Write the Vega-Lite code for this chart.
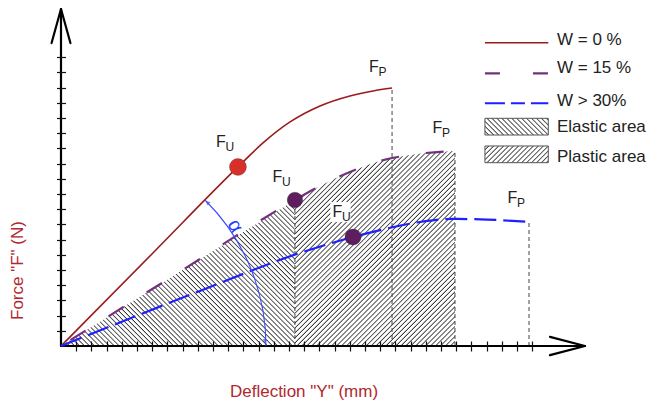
{
"$schema": "https://vega.github.io/schema/vega-lite/v6.json",
"width": 524, "height": 338,
"autosize": "none",
"padding": {"left": 61, "top": 8, "right": 63, "bottom": 58},
"background": "white",
"config": {"view": {"stroke": null}, "font": "Liberation Sans"},
"encoding": {
  "x": {"field": "x", "type": "quantitative", "scale": {"domain": [0, 34.474], "nice": false, "zero": false},
    "axis": {"values": [1,2,3,4,5,6,7,8,9,10,11,12,13,14,15,16,17,18,19,20,21,22,23,24,25,26,27,28,29,30,31],
      "domain": false, "labels": false, "grid": false, "ticks": true, "tickSize": 10, "tickWidth": 1.2, "tickColor": "#111", "offset": -5, "zindex": 2,
      "title": "Deflection \"Y\" (mm)", "titleColor": "#b0282e", "titleFontSize": 17, "titleFontWeight": "normal", "titleX": 242.5, "titleY": 55.5, "titleBaseline": "alphabetic", "titleAlign": "center"}},
  "y": {"field": "y", "type": "quantitative", "scale": {"domain": [0, 22.237], "nice": false, "zero": false},
    "axis": {"values": [1,2,3,4,5,6,7,8,9,10,11,12,13,14,15,16,17,18,19],
      "domain": false, "labels": false, "grid": false, "ticks": true, "tickSize": 9, "tickWidth": 1.2, "tickColor": "#111", "offset": -4.5, "zindex": 2,
      "title": "Force \"F\" (N)", "titleColor": "#b0282e", "titleFontSize": 17, "titleFontWeight": "normal", "titleAngle": 270, "titleX": -48, "titleY": 262, "titleBaseline": "middle", "titleAlign": "center"}}
},
"layer": [
{"data": {"values": [{"x": 0, "y": 0}, {"x": 15.39, "y": 9.61}]},
 "mark": {"type": "area", "stroke": null, "opacity": 1, "fill": {"gradient": "linear", "x1": 0, "y1": 1, "x2": 1.2179, "y2": 0.2395, "stops": [
{"offset":0,"color":"#fff"},{"offset":0.0065,"color":"#fff"},{"offset":0.01,"color":"#333"},
{"offset":0.0125,"color":"#fff"},{"offset":0.019,"color":"#fff"},{"offset":0.0225,"color":"#333"},
{"offset":0.025,"color":"#fff"},{"offset":0.0315,"color":"#fff"},{"offset":0.035,"color":"#333"},
{"offset":0.0375,"color":"#fff"},{"offset":0.044,"color":"#fff"},{"offset":0.0475,"color":"#333"},
{"offset":0.05,"color":"#fff"},{"offset":0.0565,"color":"#fff"},{"offset":0.06,"color":"#333"},
{"offset":0.0625,"color":"#fff"},{"offset":0.069,"color":"#fff"},{"offset":0.0725,"color":"#333"},
{"offset":0.075,"color":"#fff"},{"offset":0.0815,"color":"#fff"},{"offset":0.085,"color":"#333"},
{"offset":0.0875,"color":"#fff"},{"offset":0.094,"color":"#fff"},{"offset":0.0975,"color":"#333"},
{"offset":0.1,"color":"#fff"},{"offset":0.1065,"color":"#fff"},{"offset":0.11,"color":"#333"},
{"offset":0.1125,"color":"#fff"},{"offset":0.119,"color":"#fff"},{"offset":0.1225,"color":"#333"},
{"offset":0.125,"color":"#fff"},{"offset":0.1315,"color":"#fff"},{"offset":0.135,"color":"#333"},
{"offset":0.1375,"color":"#fff"},{"offset":0.144,"color":"#fff"},{"offset":0.1475,"color":"#333"},
{"offset":0.15,"color":"#fff"},{"offset":0.1565,"color":"#fff"},{"offset":0.16,"color":"#333"},
{"offset":0.1625,"color":"#fff"},{"offset":0.169,"color":"#fff"},{"offset":0.1725,"color":"#333"},
{"offset":0.175,"color":"#fff"},{"offset":0.1815,"color":"#fff"},{"offset":0.185,"color":"#333"},
{"offset":0.1875,"color":"#fff"},{"offset":0.194,"color":"#fff"},{"offset":0.1975,"color":"#333"},
{"offset":0.2,"color":"#fff"},{"offset":0.2065,"color":"#fff"},{"offset":0.21,"color":"#333"},
{"offset":0.2125,"color":"#fff"},{"offset":0.219,"color":"#fff"},{"offset":0.2225,"color":"#333"},
{"offset":0.225,"color":"#fff"},{"offset":0.2315,"color":"#fff"},{"offset":0.235,"color":"#333"},
{"offset":0.2375,"color":"#fff"},{"offset":0.244,"color":"#fff"},{"offset":0.2475,"color":"#333"},
{"offset":0.25,"color":"#fff"},{"offset":0.2565,"color":"#fff"},{"offset":0.26,"color":"#333"},
{"offset":0.2625,"color":"#fff"},{"offset":0.269,"color":"#fff"},{"offset":0.2725,"color":"#333"},
{"offset":0.275,"color":"#fff"},{"offset":0.2815,"color":"#fff"},{"offset":0.285,"color":"#333"},
{"offset":0.2875,"color":"#fff"},{"offset":0.294,"color":"#fff"},{"offset":0.2975,"color":"#333"},
{"offset":0.3,"color":"#fff"},{"offset":0.3065,"color":"#fff"},{"offset":0.31,"color":"#333"},
{"offset":0.3125,"color":"#fff"},{"offset":0.319,"color":"#fff"},{"offset":0.3225,"color":"#333"},
{"offset":0.325,"color":"#fff"},{"offset":0.3315,"color":"#fff"},{"offset":0.335,"color":"#333"},
{"offset":0.3375,"color":"#fff"},{"offset":0.344,"color":"#fff"},{"offset":0.3475,"color":"#333"},
{"offset":0.35,"color":"#fff"},{"offset":0.3565,"color":"#fff"},{"offset":0.36,"color":"#333"},
{"offset":0.3625,"color":"#fff"},{"offset":0.369,"color":"#fff"},{"offset":0.3725,"color":"#333"},
{"offset":0.375,"color":"#fff"},{"offset":0.3815,"color":"#fff"},{"offset":0.385,"color":"#333"},
{"offset":0.3875,"color":"#fff"},{"offset":0.394,"color":"#fff"},{"offset":0.3975,"color":"#333"},
{"offset":0.4,"color":"#fff"},{"offset":0.4065,"color":"#fff"},{"offset":0.41,"color":"#333"},
{"offset":0.4125,"color":"#fff"},{"offset":0.419,"color":"#fff"},{"offset":0.4225,"color":"#333"},
{"offset":0.425,"color":"#fff"},{"offset":0.4315,"color":"#fff"},{"offset":0.435,"color":"#333"},
{"offset":0.4375,"color":"#fff"},{"offset":0.444,"color":"#fff"},{"offset":0.4475,"color":"#333"},
{"offset":0.45,"color":"#fff"},{"offset":0.4565,"color":"#fff"},{"offset":0.46,"color":"#333"},
{"offset":0.4625,"color":"#fff"},{"offset":0.469,"color":"#fff"},{"offset":0.4725,"color":"#333"},
{"offset":0.475,"color":"#fff"},{"offset":0.4815,"color":"#fff"},{"offset":0.485,"color":"#333"},
{"offset":0.4875,"color":"#fff"},{"offset":0.494,"color":"#fff"},{"offset":0.4975,"color":"#333"},
{"offset":0.5,"color":"#fff"},{"offset":0.5065,"color":"#fff"},{"offset":0.51,"color":"#333"},
{"offset":0.5125,"color":"#fff"},{"offset":0.519,"color":"#fff"},{"offset":0.5225,"color":"#333"},
{"offset":0.525,"color":"#fff"},{"offset":0.5315,"color":"#fff"},{"offset":0.535,"color":"#333"},
{"offset":0.5375,"color":"#fff"},{"offset":0.544,"color":"#fff"},{"offset":0.5475,"color":"#333"},
{"offset":0.55,"color":"#fff"},{"offset":0.5565,"color":"#fff"},{"offset":0.56,"color":"#333"},
{"offset":0.5625,"color":"#fff"},{"offset":0.569,"color":"#fff"},{"offset":0.5725,"color":"#333"},
{"offset":0.575,"color":"#fff"},{"offset":0.5815,"color":"#fff"},{"offset":0.585,"color":"#333"},
{"offset":0.5875,"color":"#fff"},{"offset":0.594,"color":"#fff"},{"offset":0.5975,"color":"#333"},
{"offset":0.6,"color":"#fff"},{"offset":0.6065,"color":"#fff"},{"offset":0.61,"color":"#333"},
{"offset":0.6125,"color":"#fff"},{"offset":0.619,"color":"#fff"},{"offset":0.6225,"color":"#333"},
{"offset":0.625,"color":"#fff"},{"offset":0.6315,"color":"#fff"},{"offset":0.635,"color":"#333"},
{"offset":0.6375,"color":"#fff"},{"offset":0.644,"color":"#fff"},{"offset":0.6475,"color":"#333"},
{"offset":0.65,"color":"#fff"},{"offset":0.6565,"color":"#fff"},{"offset":0.66,"color":"#333"},
{"offset":0.6625,"color":"#fff"},{"offset":0.669,"color":"#fff"},{"offset":0.6725,"color":"#333"},
{"offset":0.675,"color":"#fff"},{"offset":0.6815,"color":"#fff"},{"offset":0.685,"color":"#333"},
{"offset":0.6875,"color":"#fff"},{"offset":0.694,"color":"#fff"},{"offset":0.6975,"color":"#333"},
{"offset":0.7,"color":"#fff"},{"offset":0.7065,"color":"#fff"},{"offset":0.71,"color":"#333"},
{"offset":0.7125,"color":"#fff"},{"offset":0.719,"color":"#fff"},{"offset":0.7225,"color":"#333"},
{"offset":0.725,"color":"#fff"},{"offset":0.7315,"color":"#fff"},{"offset":0.735,"color":"#333"},
{"offset":0.7375,"color":"#fff"},{"offset":0.744,"color":"#fff"},{"offset":0.7475,"color":"#333"},
{"offset":0.75,"color":"#fff"},{"offset":0.7565,"color":"#fff"},{"offset":0.76,"color":"#333"},
{"offset":0.7625,"color":"#fff"},{"offset":0.769,"color":"#fff"},{"offset":0.7725,"color":"#333"},
{"offset":0.775,"color":"#fff"},{"offset":0.7815,"color":"#fff"},{"offset":0.785,"color":"#333"},
{"offset":0.7875,"color":"#fff"},{"offset":0.794,"color":"#fff"},{"offset":0.7975,"color":"#333"},
{"offset":0.8,"color":"#fff"},{"offset":0.8065,"color":"#fff"},{"offset":0.81,"color":"#333"},
{"offset":0.8125,"color":"#fff"},{"offset":0.819,"color":"#fff"},{"offset":0.8225,"color":"#333"},
{"offset":0.825,"color":"#fff"},{"offset":0.8315,"color":"#fff"},{"offset":0.835,"color":"#333"},
{"offset":0.8375,"color":"#fff"},{"offset":0.844,"color":"#fff"},{"offset":0.8475,"color":"#333"},
{"offset":0.85,"color":"#fff"},{"offset":0.8565,"color":"#fff"},{"offset":0.86,"color":"#333"},
{"offset":0.8625,"color":"#fff"},{"offset":0.869,"color":"#fff"},{"offset":0.8725,"color":"#333"},
{"offset":0.875,"color":"#fff"},{"offset":0.8815,"color":"#fff"},{"offset":0.885,"color":"#333"},
{"offset":0.8875,"color":"#fff"},{"offset":0.894,"color":"#fff"},{"offset":0.8975,"color":"#333"},
{"offset":0.9,"color":"#fff"},{"offset":0.9065,"color":"#fff"},{"offset":0.91,"color":"#333"},
{"offset":0.9125,"color":"#fff"},{"offset":0.919,"color":"#fff"},{"offset":0.9225,"color":"#333"},
{"offset":0.925,"color":"#fff"},{"offset":0.9315,"color":"#fff"},{"offset":0.935,"color":"#333"},
{"offset":0.9375,"color":"#fff"},{"offset":0.944,"color":"#fff"},{"offset":0.9475,"color":"#333"},
{"offset":0.95,"color":"#fff"},{"offset":0.9565,"color":"#fff"},{"offset":0.96,"color":"#333"},
{"offset":0.9625,"color":"#fff"},{"offset":0.969,"color":"#fff"},{"offset":0.9725,"color":"#333"},
{"offset":0.975,"color":"#fff"}]}}},
{"data": {"values": [{"x": 15.39, "y": 9.61}, {"x": 17.04, "y": 10.53}, {"x": 19.01, "y": 11.45}, {"x": 20.99, "y": 12.17}, {"x": 22.96, "y": 12.57}, {"x": 25.92, "y": 12.83}]},
 "mark": {"type": "area", "interpolate": "monotone", "stroke": null, "opacity": 1, "fill": {"gradient": "linear", "x1": 0, "y1": 0, "x2": 0.9959, "y2": 1.2133, "stops": [
{"offset":0,"color":"#fff"},{"offset":0.0065,"color":"#fff"},{"offset":0.01,"color":"#333"},
{"offset":0.0125,"color":"#fff"},{"offset":0.019,"color":"#fff"},{"offset":0.0225,"color":"#333"},
{"offset":0.025,"color":"#fff"},{"offset":0.0315,"color":"#fff"},{"offset":0.035,"color":"#333"},
{"offset":0.0375,"color":"#fff"},{"offset":0.044,"color":"#fff"},{"offset":0.0475,"color":"#333"},
{"offset":0.05,"color":"#fff"},{"offset":0.0565,"color":"#fff"},{"offset":0.06,"color":"#333"},
{"offset":0.0625,"color":"#fff"},{"offset":0.069,"color":"#fff"},{"offset":0.0725,"color":"#333"},
{"offset":0.075,"color":"#fff"},{"offset":0.0815,"color":"#fff"},{"offset":0.085,"color":"#333"},
{"offset":0.0875,"color":"#fff"},{"offset":0.094,"color":"#fff"},{"offset":0.0975,"color":"#333"},
{"offset":0.1,"color":"#fff"},{"offset":0.1065,"color":"#fff"},{"offset":0.11,"color":"#333"},
{"offset":0.1125,"color":"#fff"},{"offset":0.119,"color":"#fff"},{"offset":0.1225,"color":"#333"},
{"offset":0.125,"color":"#fff"},{"offset":0.1315,"color":"#fff"},{"offset":0.135,"color":"#333"},
{"offset":0.1375,"color":"#fff"},{"offset":0.144,"color":"#fff"},{"offset":0.1475,"color":"#333"},
{"offset":0.15,"color":"#fff"},{"offset":0.1565,"color":"#fff"},{"offset":0.16,"color":"#333"},
{"offset":0.1625,"color":"#fff"},{"offset":0.169,"color":"#fff"},{"offset":0.1725,"color":"#333"},
{"offset":0.175,"color":"#fff"},{"offset":0.1815,"color":"#fff"},{"offset":0.185,"color":"#333"},
{"offset":0.1875,"color":"#fff"},{"offset":0.194,"color":"#fff"},{"offset":0.1975,"color":"#333"},
{"offset":0.2,"color":"#fff"},{"offset":0.2065,"color":"#fff"},{"offset":0.21,"color":"#333"},
{"offset":0.2125,"color":"#fff"},{"offset":0.219,"color":"#fff"},{"offset":0.2225,"color":"#333"},
{"offset":0.225,"color":"#fff"},{"offset":0.2315,"color":"#fff"},{"offset":0.235,"color":"#333"},
{"offset":0.2375,"color":"#fff"},{"offset":0.244,"color":"#fff"},{"offset":0.2475,"color":"#333"},
{"offset":0.25,"color":"#fff"},{"offset":0.2565,"color":"#fff"},{"offset":0.26,"color":"#333"},
{"offset":0.2625,"color":"#fff"},{"offset":0.269,"color":"#fff"},{"offset":0.2725,"color":"#333"},
{"offset":0.275,"color":"#fff"},{"offset":0.2815,"color":"#fff"},{"offset":0.285,"color":"#333"},
{"offset":0.2875,"color":"#fff"},{"offset":0.294,"color":"#fff"},{"offset":0.2975,"color":"#333"},
{"offset":0.3,"color":"#fff"},{"offset":0.3065,"color":"#fff"},{"offset":0.31,"color":"#333"},
{"offset":0.3125,"color":"#fff"},{"offset":0.319,"color":"#fff"},{"offset":0.3225,"color":"#333"},
{"offset":0.325,"color":"#fff"},{"offset":0.3315,"color":"#fff"},{"offset":0.335,"color":"#333"},
{"offset":0.3375,"color":"#fff"},{"offset":0.344,"color":"#fff"},{"offset":0.3475,"color":"#333"},
{"offset":0.35,"color":"#fff"},{"offset":0.3565,"color":"#fff"},{"offset":0.36,"color":"#333"},
{"offset":0.3625,"color":"#fff"},{"offset":0.369,"color":"#fff"},{"offset":0.3725,"color":"#333"},
{"offset":0.375,"color":"#fff"},{"offset":0.3815,"color":"#fff"},{"offset":0.385,"color":"#333"},
{"offset":0.3875,"color":"#fff"},{"offset":0.394,"color":"#fff"},{"offset":0.3975,"color":"#333"},
{"offset":0.4,"color":"#fff"},{"offset":0.4065,"color":"#fff"},{"offset":0.41,"color":"#333"},
{"offset":0.4125,"color":"#fff"},{"offset":0.419,"color":"#fff"},{"offset":0.4225,"color":"#333"},
{"offset":0.425,"color":"#fff"},{"offset":0.4315,"color":"#fff"},{"offset":0.435,"color":"#333"},
{"offset":0.4375,"color":"#fff"},{"offset":0.444,"color":"#fff"},{"offset":0.4475,"color":"#333"},
{"offset":0.45,"color":"#fff"},{"offset":0.4565,"color":"#fff"},{"offset":0.46,"color":"#333"},
{"offset":0.4625,"color":"#fff"},{"offset":0.469,"color":"#fff"},{"offset":0.4725,"color":"#333"},
{"offset":0.475,"color":"#fff"},{"offset":0.4815,"color":"#fff"},{"offset":0.485,"color":"#333"},
{"offset":0.4875,"color":"#fff"},{"offset":0.494,"color":"#fff"},{"offset":0.4975,"color":"#333"},
{"offset":0.5,"color":"#fff"},{"offset":0.5065,"color":"#fff"},{"offset":0.51,"color":"#333"},
{"offset":0.5125,"color":"#fff"},{"offset":0.519,"color":"#fff"},{"offset":0.5225,"color":"#333"},
{"offset":0.525,"color":"#fff"},{"offset":0.5315,"color":"#fff"},{"offset":0.535,"color":"#333"},
{"offset":0.5375,"color":"#fff"},{"offset":0.544,"color":"#fff"},{"offset":0.5475,"color":"#333"},
{"offset":0.55,"color":"#fff"},{"offset":0.5565,"color":"#fff"},{"offset":0.56,"color":"#333"},
{"offset":0.5625,"color":"#fff"},{"offset":0.569,"color":"#fff"},{"offset":0.5725,"color":"#333"},
{"offset":0.575,"color":"#fff"},{"offset":0.5815,"color":"#fff"},{"offset":0.585,"color":"#333"},
{"offset":0.5875,"color":"#fff"},{"offset":0.594,"color":"#fff"},{"offset":0.5975,"color":"#333"},
{"offset":0.6,"color":"#fff"},{"offset":0.6065,"color":"#fff"},{"offset":0.61,"color":"#333"},
{"offset":0.6125,"color":"#fff"},{"offset":0.619,"color":"#fff"},{"offset":0.6225,"color":"#333"},
{"offset":0.625,"color":"#fff"},{"offset":0.6315,"color":"#fff"},{"offset":0.635,"color":"#333"},
{"offset":0.6375,"color":"#fff"},{"offset":0.644,"color":"#fff"},{"offset":0.6475,"color":"#333"},
{"offset":0.65,"color":"#fff"},{"offset":0.6565,"color":"#fff"},{"offset":0.66,"color":"#333"},
{"offset":0.6625,"color":"#fff"},{"offset":0.669,"color":"#fff"},{"offset":0.6725,"color":"#333"},
{"offset":0.675,"color":"#fff"},{"offset":0.6815,"color":"#fff"},{"offset":0.685,"color":"#333"},
{"offset":0.6875,"color":"#fff"},{"offset":0.694,"color":"#fff"},{"offset":0.6975,"color":"#333"},
{"offset":0.7,"color":"#fff"},{"offset":0.7065,"color":"#fff"},{"offset":0.71,"color":"#333"},
{"offset":0.7125,"color":"#fff"},{"offset":0.719,"color":"#fff"},{"offset":0.7225,"color":"#333"},
{"offset":0.725,"color":"#fff"},{"offset":0.7315,"color":"#fff"},{"offset":0.735,"color":"#333"},
{"offset":0.7375,"color":"#fff"},{"offset":0.744,"color":"#fff"},{"offset":0.7475,"color":"#333"},
{"offset":0.75,"color":"#fff"},{"offset":0.7565,"color":"#fff"},{"offset":0.76,"color":"#333"},
{"offset":0.7625,"color":"#fff"},{"offset":0.769,"color":"#fff"},{"offset":0.7725,"color":"#333"},
{"offset":0.775,"color":"#fff"},{"offset":0.7815,"color":"#fff"},{"offset":0.785,"color":"#333"},
{"offset":0.7875,"color":"#fff"},{"offset":0.794,"color":"#fff"},{"offset":0.7975,"color":"#333"},
{"offset":0.8,"color":"#fff"},{"offset":0.8065,"color":"#fff"},{"offset":0.81,"color":"#333"},
{"offset":0.8125,"color":"#fff"},{"offset":0.819,"color":"#fff"},{"offset":0.8225,"color":"#333"},
{"offset":0.825,"color":"#fff"},{"offset":0.8315,"color":"#fff"},{"offset":0.835,"color":"#333"},
{"offset":0.8375,"color":"#fff"},{"offset":0.844,"color":"#fff"},{"offset":0.8475,"color":"#333"},
{"offset":0.85,"color":"#fff"},{"offset":0.8565,"color":"#fff"},{"offset":0.86,"color":"#333"},
{"offset":0.8625,"color":"#fff"},{"offset":0.869,"color":"#fff"},{"offset":0.8725,"color":"#333"},
{"offset":0.875,"color":"#fff"},{"offset":0.8815,"color":"#fff"},{"offset":0.885,"color":"#333"},
{"offset":0.8875,"color":"#fff"},{"offset":0.894,"color":"#fff"},{"offset":0.8975,"color":"#333"},
{"offset":0.9,"color":"#fff"},{"offset":0.9065,"color":"#fff"},{"offset":0.91,"color":"#333"},
{"offset":0.9125,"color":"#fff"}]}}},
{"data": {"values": [{"x": 17.72, "x2": 19.05, "y": 8.16, "y2": 9.47}]},
 "mark": {"type": "rect", "fill": "white", "stroke": null},
 "encoding": {"x2": {"field": "x2"}, "y2": {"field": "y2"}}},
{"data": {"values": [{"x": 15.39, "y": 0, "y2": 9.61}, {"x": 21.78, "y": 0, "y2": 16.97}, {"x": 25.92, "y": 0, "y2": 12.83}, {"x": 30.79, "y": 0, "y2": 8.16}]},
 "mark": {"type": "rule", "color": "#444", "strokeDash": [4, 3], "strokeWidth": 1},
 "encoding": {"y2": {"field": "y2"}}},
{"data": {"values": [
  {"x": 0, "y": 0, "x2": 0, "y2": 22.17},
  {"x": 0, "y": 0, "x2": 34.47, "y2": 0},
  {"x": -0.62, "y": 19.93, "x2": 0, "y2": 22.17},
  {"x": 0.62, "y": 19.93, "x2": 0, "y2": 22.17},
  {"x": 32.17, "y": 0.6, "x2": 34.47, "y2": 0},
  {"x": 32.17, "y": -0.6, "x2": 34.47, "y2": 0}]},
 "mark": {"type": "rule", "color": "#000", "strokeWidth": 2.2, "strokeCap": "round"},
 "encoding": {"x2": {"field": "x2"}, "y2": {"field": "y2"}}},
{"data": {"values": [{"x": 0, "y": 0}, {"x": 6, "y": 6.07}, {"x": 11.64, "y": 11.78}, {"x": 13.29, "y": 13.36}, {"x": 15.07, "y": 14.74}, {"x": 17.04, "y": 15.79}, {"x": 19.01, "y": 16.45}, {"x": 20.53, "y": 16.78}, {"x": 21.78, "y": 16.97}]},
 "mark": {"type": "line", "color": "#9b1b1b", "strokeWidth": 1.6, "interpolate": "monotone"}},
{"data": {"values": [{"x": 0, "y": 0}, {"x": 7.7, "y": 4.81}, {"x": 15.39, "y": 9.61}, {"x": 17.04, "y": 10.53}, {"x": 19.01, "y": 11.45}, {"x": 20.99, "y": 12.17}, {"x": 22.96, "y": 12.57}, {"x": 25.92, "y": 12.83}]},
 "mark": {"type": "line", "color": "#74307f", "strokeWidth": 2.2, "strokeDash": [18, 27], "strokeDashOffset": 34, "interpolate": "monotone"}},
{"data": {"values": [{"x": 0, "y": 0}, {"x": 9.14, "y": 3.62}, {"x": 15.72, "y": 6.12}, {"x": 19.21, "y": 7.17}, {"x": 21.45, "y": 7.73}, {"x": 23.62, "y": 8.16}, {"x": 25.79, "y": 8.36}, {"x": 28.03, "y": 8.32}, {"x": 30.79, "y": 8.16}]},
 "mark": {"type": "line", "color": "#1f1fff", "strokeWidth": 2.2, "strokeDash": [22, 7], "interpolate": "monotone"}},
{"data": {"values": [{"x": 0, "y": 0}]},
 "mark": {"type": "arc", "theta": 0.78, "theta2": 1.5708, "radius": 205, "radius2": 205, "fill": "transparent", "stroke": "#3a4cff", "strokeWidth": 1.1}},
{"data": {"values": [{"x": 9.64, "y": 9.44, "a": -45}, {"x": 13.42, "y": 0.33, "a": 180}]},
 "mark": {"type": "point", "shape": "triangle-up", "filled": true, "color": "#3a4cff", "size": 22},
 "encoding": {"angle": {"field": "a", "type": "quantitative", "scale": null}}},
{"data": {"values": [{"x": 11.45, "y": 7.89}]},
 "mark": {"type": "text", "text": "α", "angle": 60, "fontSize": 20, "color": "#2a3cff", "align": "center", "baseline": "middle"}},
{"data": {"values": [{"x": 11.64, "y": 11.78, "c": "#d7302b", "s": 290}, {"x": 15.39, "y": 9.61, "c": "#5c1e5f", "s": 240}, {"x": 19.21, "y": 7.17, "c": "#5c1e5f", "s": 260}]},
 "mark": {"type": "point", "shape": "circle", "filled": true, "opacity": 1, "stroke": "#000", "strokeOpacity": 0.25, "strokeWidth": 0.8},
 "encoding": {"color": {"field": "c", "type": "nominal", "scale": null}, "size": {"field": "s", "type": "quantitative", "scale": null}}},
{"data": {"values": [{"x": 10.2, "y": 13.06, "s": "U"}, {"x": 13.91, "y": 10.76, "s": "U"}, {"x": 17.86, "y": 8.5, "s": "U"}, {"x": 20.26, "y": 18.03, "s": "P"}, {"x": 24.44, "y": 14.04, "s": "P"}, {"x": 29.38, "y": 9.43, "s": "P"}]},
 "layer": [
  {"mark": {"type": "text", "text": "F", "align": "left", "baseline": "alphabetic", "fontSize": 16, "color": "#222"}},
  {"mark": {"type": "text", "align": "left", "baseline": "alphabetic", "fontSize": 12, "dx": 9.5, "dy": 4, "color": "#222"}, "encoding": {"text": {"field": "s"}}}
 ]},
{"data": {"values": [{"x": 27.89, "x2": 32.06, "y": 19.95}]},
 "mark": {"type": "rule", "color": "#9b1b1b", "strokeWidth": 1.6}, "encoding": {"x2": {"field": "x2"}}},
{"data": {"values": [{"x": 27.89, "x2": 32.06, "y": 17.94}]},
 "mark": {"type": "rule", "color": "#74307f", "strokeWidth": 2.2, "strokeDash": [15, 33]}, "encoding": {"x2": {"field": "x2"}}},
{"data": {"values": [{"x": 27.89, "x2": 32.06, "y": 15.97}]},
 "mark": {"type": "rule", "color": "#1f1fff", "strokeWidth": 2.2, "strokeDash": [20, 6, 14, 6]}, "encoding": {"x2": {"field": "x2"}}},
{"data": {"values": [{"x": 27.89, "x2": 32.06, "y": 13.88, "y2": 14.98}]},
 "mark": {"type": "rect", "stroke": "#555", "strokeWidth": 1, "fill": {"gradient": "linear", "x1": 0, "y1": 1, "x2": 1.4621, "y2": 0.6143, "stops": [
{"offset":0,"color":"#fff"},{"offset":0.026,"color":"#fff"},{"offset":0.04,"color":"#333"},
{"offset":0.05,"color":"#fff"},{"offset":0.076,"color":"#fff"},{"offset":0.09,"color":"#333"},
{"offset":0.1,"color":"#fff"},{"offset":0.126,"color":"#fff"},{"offset":0.14,"color":"#333"},
{"offset":0.15,"color":"#fff"},{"offset":0.176,"color":"#fff"},{"offset":0.19,"color":"#333"},
{"offset":0.2,"color":"#fff"},{"offset":0.226,"color":"#fff"},{"offset":0.24,"color":"#333"},
{"offset":0.25,"color":"#fff"},{"offset":0.276,"color":"#fff"},{"offset":0.29,"color":"#333"},
{"offset":0.3,"color":"#fff"},{"offset":0.326,"color":"#fff"},{"offset":0.34,"color":"#333"},
{"offset":0.35,"color":"#fff"},{"offset":0.376,"color":"#fff"},{"offset":0.39,"color":"#333"},
{"offset":0.4,"color":"#fff"},{"offset":0.426,"color":"#fff"},{"offset":0.44,"color":"#333"},
{"offset":0.45,"color":"#fff"},{"offset":0.476,"color":"#fff"},{"offset":0.49,"color":"#333"},
{"offset":0.5,"color":"#fff"},{"offset":0.526,"color":"#fff"},{"offset":0.54,"color":"#333"},
{"offset":0.55,"color":"#fff"},{"offset":0.576,"color":"#fff"},{"offset":0.59,"color":"#333"},
{"offset":0.6,"color":"#fff"},{"offset":0.626,"color":"#fff"},{"offset":0.64,"color":"#333"},
{"offset":0.65,"color":"#fff"},{"offset":0.676,"color":"#fff"},{"offset":0.69,"color":"#333"},
{"offset":0.7,"color":"#fff"},{"offset":0.726,"color":"#fff"},{"offset":0.74,"color":"#333"},
{"offset":0.75,"color":"#fff"},{"offset":0.776,"color":"#fff"},{"offset":0.79,"color":"#333"},
{"offset":0.8,"color":"#fff"},{"offset":0.826,"color":"#fff"},{"offset":0.84,"color":"#333"},
{"offset":0.85,"color":"#fff"}]}},
 "encoding": {"x2": {"field": "x2"}, "y2": {"field": "y2"}}},
{"data": {"values": [{"x": 27.89, "x2": 32.06, "y": 12.06, "y2": 13.16}]},
 "mark": {"type": "rect", "stroke": "#555", "strokeWidth": 1, "fill": {"gradient": "linear", "x1": 0, "y1": 0, "x2": 1.4621, "y2": 0.3857, "stops": [
{"offset":0,"color":"#fff"},{"offset":0.026,"color":"#fff"},{"offset":0.04,"color":"#333"},
{"offset":0.05,"color":"#fff"},{"offset":0.076,"color":"#fff"},{"offset":0.09,"color":"#333"},
{"offset":0.1,"color":"#fff"},{"offset":0.126,"color":"#fff"},{"offset":0.14,"color":"#333"},
{"offset":0.15,"color":"#fff"},{"offset":0.176,"color":"#fff"},{"offset":0.19,"color":"#333"},
{"offset":0.2,"color":"#fff"},{"offset":0.226,"color":"#fff"},{"offset":0.24,"color":"#333"},
{"offset":0.25,"color":"#fff"},{"offset":0.276,"color":"#fff"},{"offset":0.29,"color":"#333"},
{"offset":0.3,"color":"#fff"},{"offset":0.326,"color":"#fff"},{"offset":0.34,"color":"#333"},
{"offset":0.35,"color":"#fff"},{"offset":0.376,"color":"#fff"},{"offset":0.39,"color":"#333"},
{"offset":0.4,"color":"#fff"},{"offset":0.426,"color":"#fff"},{"offset":0.44,"color":"#333"},
{"offset":0.45,"color":"#fff"},{"offset":0.476,"color":"#fff"},{"offset":0.49,"color":"#333"},
{"offset":0.5,"color":"#fff"},{"offset":0.526,"color":"#fff"},{"offset":0.54,"color":"#333"},
{"offset":0.55,"color":"#fff"},{"offset":0.576,"color":"#fff"},{"offset":0.59,"color":"#333"},
{"offset":0.6,"color":"#fff"},{"offset":0.626,"color":"#fff"},{"offset":0.64,"color":"#333"},
{"offset":0.65,"color":"#fff"},{"offset":0.676,"color":"#fff"},{"offset":0.69,"color":"#333"},
{"offset":0.7,"color":"#fff"},{"offset":0.726,"color":"#fff"},{"offset":0.74,"color":"#333"},
{"offset":0.75,"color":"#fff"},{"offset":0.776,"color":"#fff"},{"offset":0.79,"color":"#333"},
{"offset":0.8,"color":"#fff"},{"offset":0.826,"color":"#fff"},{"offset":0.84,"color":"#333"},
{"offset":0.85,"color":"#fff"}]}},
 "encoding": {"x2": {"field": "x2"}, "y2": {"field": "y2"}}},
{"data": {"values": [{"x": 32.63, "y": 19.8, "t": "W = 0 %"}, {"x": 32.63, "y": 17.94, "t": "W = 15 %"}, {"x": 32.63, "y": 15.81, "t": "W > 30%"}, {"x": 32.63, "y": 14.06, "t": "Elastic area"}, {"x": 32.63, "y": 12.13, "t": "Plastic area"}]},
 "mark": {"type": "text", "align": "left", "baseline": "alphabetic", "fontSize": 17, "color": "#222"},
 "encoding": {"text": {"field": "t"}}}
]
}
